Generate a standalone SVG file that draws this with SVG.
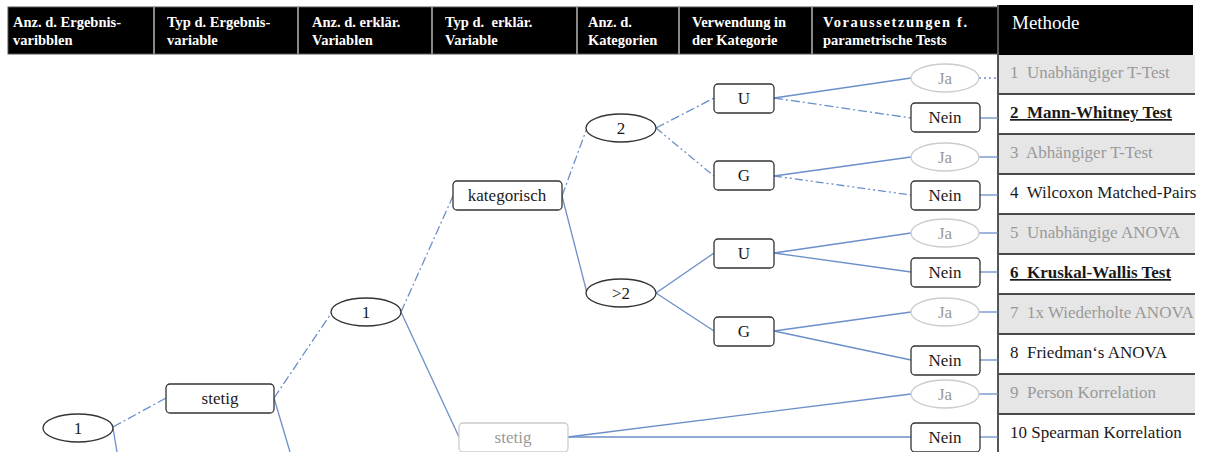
<svg xmlns="http://www.w3.org/2000/svg" width="1205" height="452" viewBox="0 0 1205 452">
<style>
text{font-family:"Liberation Serif","Times New Roman","DejaVu Serif",serif}
.hd{font-weight:bold;font-size:14.5px;fill:#fff}
.box{fill:#fff;stroke:#333;stroke-width:1.3}
.gbox{fill:#fff;stroke:#ccc;stroke-width:1.3}
.t{font-size:17px;fill:#1a1a1a;text-anchor:middle}
.gt{font-size:17px;fill:#999;text-anchor:middle}
.c{fill:none;stroke:#6a8fc9;stroke-width:1.3}
.dd{stroke-dasharray:9,3,2,3}
.ddd{stroke-dasharray:8,3,2,3,2,3}
.row{font-size:17px;fill:#1a1a1a}
.grow{font-size:17px;fill:#999}
.b{font-weight:bold;text-decoration:underline}
</style>
<rect width="1205" height="452" fill="#fff"/>
<g id="header">
<rect x="8" y="7" width="990" height="47" fill="#000" stroke="#555" stroke-width="1"/>
<g stroke="#888" stroke-width="2">
<line x1="154" y1="7" x2="154" y2="54"/><line x1="298" y1="7" x2="298" y2="54"/><line x1="432" y1="7" x2="432" y2="54"/><line x1="577" y1="7" x2="577" y2="54"/><line x1="679" y1="7" x2="679" y2="54"/><line x1="812" y1="7" x2="812" y2="54"/>
</g>
<text class="hd" x="13" y="27">Anz. d. Ergebnis-</text><text class="hd" x="13" y="45">varibblen</text>
<text class="hd" x="167" y="27">Typ d. Ergebnis-</text><text class="hd" x="167" y="45">variable</text>
<text class="hd" x="312" y="27">Anz. d. erklär.</text><text class="hd" x="312" y="45">Variablen</text>
<text class="hd" x="445" y="27" xml:space="preserve">Typ d.  erklär.</text><text class="hd" x="445" y="45">Variable</text>
<text class="hd" x="588" y="27">Anz. d.</text><text class="hd" x="588" y="45">Kategorien</text>
<text class="hd" x="692" y="27">Verwendung in</text><text class="hd" x="692" y="45">der Kategorie</text>
<text class="hd" x="823" y="27" textLength="144" lengthAdjust="spacing">Voraussetzungen f.</text><text class="hd" x="823" y="45">parametrische Tests</text>
<rect x="998" y="5" width="195" height="50" fill="#000"/>
<text class="hd" x="1012" y="29" style="font-size:19px;font-weight:normal">Methode</text>
</g>
<g id="methods">
<rect x="998" y="55" width="197" height="39" fill="#e6e6e6"/>
<rect x="998" y="134" width="197" height="40" fill="#e6e6e6"/>
<rect x="998" y="214" width="197" height="40" fill="#e6e6e6"/>
<rect x="998" y="294" width="197" height="40" fill="#e6e6e6"/>
<rect x="998" y="374" width="197" height="40" fill="#e6e6e6"/>
<g stroke="#111" stroke-width="1.3">
<line x1="998" y1="94" x2="1195" y2="94"/><line x1="998" y1="134" x2="1195" y2="134"/><line x1="998" y1="174" x2="1195" y2="174"/><line x1="998" y1="214" x2="1195" y2="214"/><line x1="998" y1="254" x2="1195" y2="254"/><line x1="998" y1="294" x2="1195" y2="294"/><line x1="998" y1="334" x2="1195" y2="334"/><line x1="998" y1="374" x2="1195" y2="374"/><line x1="998" y1="414" x2="1195" y2="414"/>
</g>
<line x1="998" y1="5" x2="998" y2="452" stroke="#555" stroke-width="2"/>
<text class="grow" x="1010" y="78" xml:space="preserve">1  Unabhängiger T-Test</text>
<text class="row b" x="1010" y="118" xml:space="preserve">2  Mann-Whitney Test</text>
<text class="grow" x="1010" y="158" xml:space="preserve">3  Abhängiger T-Test</text>
<text class="row" x="1010" y="198" xml:space="preserve">4  Wilcoxon Matched-Pairs</text>
<text class="grow" x="1010" y="238" xml:space="preserve">5  Unabhängige ANOVA</text>
<text class="row b" x="1010" y="278" xml:space="preserve">6  Kruskal-Wallis Test</text>
<text class="grow" x="1010" y="318" xml:space="preserve">7  1x Wiederholte ANOVA</text>
<text class="row" x="1010" y="358" xml:space="preserve">8  Friedman‘s ANOVA</text>
<text class="grow" x="1010" y="398" xml:space="preserve">9  Person Korrelation</text>
<text class="row" x="1010" y="438">10 Spearman Korrelation</text>
</g>
<g id="connectors">
<line class="c" x1="113" y1="428" x2="117" y2="452"/>
<line class="c dd" x1="113" y1="427" x2="166" y2="398"/>
<line class="c dd" x1="274" y1="398" x2="332" y2="312"/>
<line class="c" x1="274" y1="398" x2="290" y2="452"/>
<line class="c dd" x1="401" y1="312" x2="453" y2="196"/>
<line class="c" x1="401" y1="312" x2="459" y2="437"/>
<line class="c dd" x1="562" y1="196" x2="587" y2="128"/>
<line class="c" x1="562" y1="196" x2="587" y2="293"/>
<line class="c dd" x1="656" y1="128" x2="714" y2="98"/>
<line class="c ddd" x1="656" y1="128" x2="714" y2="176"/>
<line class="c" x1="656" y1="293" x2="714" y2="253"/>
<line class="c" x1="656" y1="293" x2="714" y2="331"/>
<line class="c" x1="774" y1="98" x2="911" y2="78"/>
<line class="c dd" x1="774" y1="98" x2="911" y2="118"/>
<line class="c" x1="774" y1="176" x2="911" y2="157"/>
<line class="c ddd" x1="774" y1="176" x2="911" y2="195"/>
<line class="c" x1="774" y1="253" x2="911" y2="233"/>
<line class="c" x1="774" y1="253" x2="911" y2="272"/>
<line class="c" x1="774" y1="331" x2="911" y2="312"/>
<line class="c" x1="774" y1="331" x2="911" y2="360"/>
<line class="c" x1="568" y1="437" x2="911" y2="394"/>
<line class="c" x1="568" y1="437" x2="911" y2="437"/>
<line class="c" x1="979" y1="78" x2="998" y2="78" stroke-dasharray="2,3"/>
<line class="c" x1="980" y1="118" x2="998" y2="118"/>
<line class="c" x1="979" y1="157" x2="998" y2="157"/>
<line class="c" x1="980" y1="195" x2="998" y2="195"/>
<line class="c" x1="979" y1="233" x2="998" y2="233"/>
<line class="c" x1="980" y1="272" x2="998" y2="272"/>
<line class="c" x1="979" y1="312" x2="998" y2="312"/>
<line class="c" x1="980" y1="360" x2="998" y2="360"/>
<line class="c" x1="979" y1="394" x2="998" y2="394"/>
<line class="c" x1="980" y1="437" x2="998" y2="437"/>
</g>
<g id="n_root"><ellipse class="box" cx="78" cy="428" rx="35" ry="14"/><text class="t" x="78" y="434">1</text></g>
<g id="n_stetig1"><rect class="box" x="166" y="384" width="108" height="29" rx="4"/><text class="t" x="220" y="404">stetig</text></g>
<g id="n_one"><ellipse class="box" cx="366" cy="312" rx="35" ry="14"/><text class="t" x="366" y="318">1</text></g>
<g id="n_kat"><rect class="box" x="453" y="181" width="109" height="29" rx="4"/><text class="t" x="507" y="201">kategorisch</text></g>
<g id="n_stetig2"><rect class="gbox" x="459" y="423" width="109" height="29" rx="4"/><text class="gt" x="513" y="443">stetig</text></g>
<g id="n_two"><ellipse class="box" cx="621" cy="128" rx="35" ry="14"/><text class="t" x="621" y="134">2</text></g>
<g id="n_gt2"><ellipse class="box" cx="621" cy="293" rx="35" ry="14"/><text class="t" x="621" y="299">&gt;2</text></g>
<g id="n_u1"><rect class="box" x="714" y="84" width="60" height="29" rx="4"/><text class="t" x="744" y="104">U</text></g>
<g id="n_g1"><rect class="box" x="714" y="161" width="60" height="29" rx="4"/><text class="t" x="744" y="181">G</text></g>
<g id="n_u2"><rect class="box" x="714" y="239" width="60" height="29" rx="4"/><text class="t" x="744" y="259">U</text></g>
<g id="n_g2"><rect class="box" x="714" y="317" width="60" height="29" rx="4"/><text class="t" x="744" y="337">G</text></g>
<g id="n_ja1"><ellipse class="gbox" cx="945" cy="78" rx="34" ry="14"/><text class="gt" x="945" y="84">Ja</text></g>
<g id="n_nein1"><rect class="box" x="911" y="103" width="69" height="29" rx="4"/><text class="t" x="945" y="123">Nein</text></g>
<g id="n_ja2"><ellipse class="gbox" cx="945" cy="157" rx="34" ry="14"/><text class="gt" x="945" y="163">Ja</text></g>
<g id="n_nein2"><rect class="box" x="911" y="181" width="69" height="29" rx="4"/><text class="t" x="945" y="201">Nein</text></g>
<g id="n_ja3"><ellipse class="gbox" cx="945" cy="233" rx="34" ry="14"/><text class="gt" x="945" y="239">Ja</text></g>
<g id="n_nein3"><rect class="box" x="911" y="258" width="69" height="29" rx="4"/><text class="t" x="945" y="278">Nein</text></g>
<g id="n_ja4"><ellipse class="gbox" cx="945" cy="312" rx="34" ry="14"/><text class="gt" x="945" y="318">Ja</text></g>
<g id="n_nein4"><rect class="box" x="911" y="346" width="69" height="29" rx="4"/><text class="t" x="945" y="366">Nein</text></g>
<g id="n_ja5"><ellipse class="gbox" cx="945" cy="394" rx="34" ry="14"/><text class="gt" x="945" y="400">Ja</text></g>
<g id="n_nein5"><rect class="box" x="911" y="423" width="69" height="29" rx="4"/><text class="t" x="945" y="443">Nein</text></g>
</svg>
